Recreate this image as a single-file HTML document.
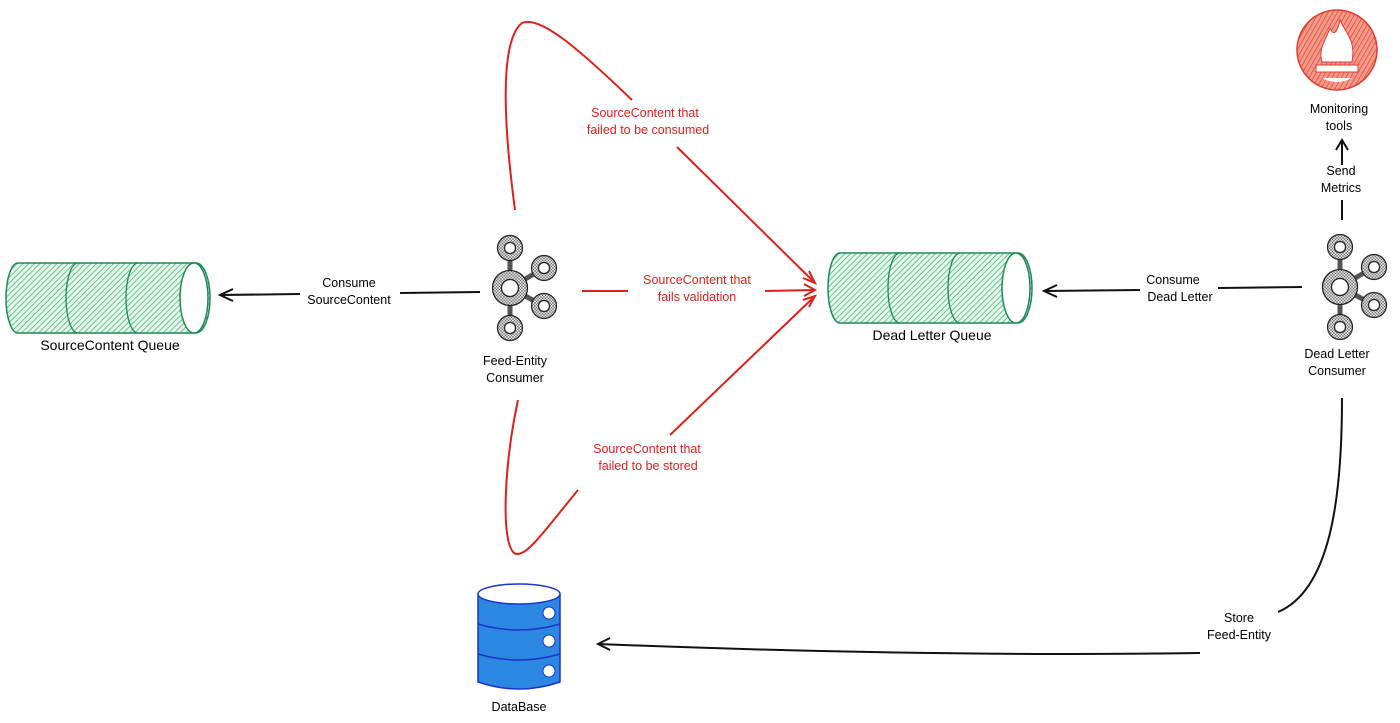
<!DOCTYPE html>
<html><head><meta charset="utf-8"><style>
html,body{margin:0;padding:0;background:#fff;width:1400px;height:723px;overflow:hidden}
svg text{font-family:"Liberation Sans",sans-serif;font-size:12.5px;text-anchor:middle}
</style></head><body>
<svg width="1400" height="723" viewBox="0 0 1400 723" xmlns="http://www.w3.org/2000/svg">
<defs>
<pattern id="hg" width="4" height="4" patternUnits="userSpaceOnUse" patternTransform="rotate(45)"><rect width="4" height="4" fill="#e6f7ec"/><line x1="0" y1="0" x2="0" y2="4" stroke="#3fb46e" stroke-width="1.5"/></pattern>
<pattern id="hk" width="3" height="3" patternUnits="userSpaceOnUse"><rect width="3" height="3" fill="#d8d8d8"/><path d="M0 0L3 3M3 0L0 3" stroke="#666" stroke-width="0.5"/></pattern>
<pattern id="hr" width="4" height="4" patternUnits="userSpaceOnUse" patternTransform="rotate(30)"><rect width="4" height="4" fill="#f59b8c"/><line x1="0" y1="0" x2="0" y2="4" stroke="#e03c2c" stroke-width="1.4"/></pattern>
<g id="kafka">
<line x1="0" y1="-40" x2="0" y2="40" stroke="#555" stroke-width="5"/>
<line x1="0" y1="0" x2="34" y2="-20" stroke="#555" stroke-width="5"/>
<line x1="0" y1="0" x2="34" y2="18" stroke="#555" stroke-width="5"/>
<circle r="13" fill="#fff" stroke="url(#hk)" stroke-width="9"/><circle r="17.5" fill="none" stroke="#222" stroke-width="1.3"/><circle r="8.5" fill="#fff" stroke="#222" stroke-width="1.3"/>
<g transform="translate(0,-40)"><circle r="9" fill="#fff" stroke="url(#hk)" stroke-width="7"/><circle r="12.5" fill="none" stroke="#222" stroke-width="1.2"/><circle r="5.5" fill="#fff" stroke="#222" stroke-width="1.2"/></g>
<g transform="translate(0,40)"><circle r="9" fill="#fff" stroke="url(#hk)" stroke-width="7"/><circle r="12.5" fill="none" stroke="#222" stroke-width="1.2"/><circle r="5.5" fill="#fff" stroke="#222" stroke-width="1.2"/></g>
<g transform="translate(34,-20)"><circle r="9" fill="#fff" stroke="url(#hk)" stroke-width="7"/><circle r="12.5" fill="none" stroke="#222" stroke-width="1.2"/><circle r="5.5" fill="#fff" stroke="#222" stroke-width="1.2"/></g>
<g transform="translate(34,18)"><circle r="9" fill="#fff" stroke="url(#hk)" stroke-width="7"/><circle r="12.5" fill="none" stroke="#222" stroke-width="1.2"/><circle r="5.5" fill="#fff" stroke="#222" stroke-width="1.2"/></g>
</g>
<g id="queue">
<path d="M12,0 H190 A14,35 0 0 1 190,70 H12 A12,35 0 0 1 12,0Z" fill="url(#hg)" stroke="#1e8a55" stroke-width="1.5"/>
<path d="M72,0 A12,35 0 0 0 72,70 M132,0 A12,35 0 0 0 132,70" fill="none" stroke="#1e8a55" stroke-width="1.3"/>
<ellipse cx="188" cy="35" rx="14" ry="35" fill="#fff" stroke="#1e8a55" stroke-width="1.5"/>
</g>
</defs>

<use href="#queue" x="6" y="263"/>
<text x="110" y="350" style="font-size:14px">SourceContent Queue</text>
<use href="#queue" x="828" y="253"/>
<text x="932" y="340" style="font-size:14px">Dead Letter Queue</text>

<use href="#kafka" x="510" y="288"/>
<text x="515" y="365">Feed-Entity</text><text x="515" y="382">Consumer</text>
<use href="#kafka" x="1340" y="287"/>
<text x="1337" y="358">Dead Letter</text><text x="1337" y="375">Consumer</text>

<circle cx="1337" cy="50" r="40" fill="url(#hr)" stroke="#e03c2c" stroke-width="1.5"/>
<path d="M1322,62 C1318,48 1326,40 1330,28 C1334,38 1338,30 1340,20 C1346,34 1356,40 1352,62Z" fill="#fff" stroke="#e03c2c"/>
<rect x="1316" y="65" width="42" height="7" fill="#fff" stroke="#e03c2c"/>
<path d="M1322,78 Q1337,86 1352,78Z" fill="#fff"/>
<text x="1339" y="113">Monitoring</text><text x="1339" y="130">tools</text>

<!-- DB -->
<path d="M478,594 V682 Q519,696 560,682 V594" fill="#2b87e0" stroke="#1a34c8" stroke-width="1.5"/>
<path d="M478,624 Q519,636 560,624 M478,654 Q519,666 560,654" fill="none" stroke="#1a34c8" stroke-width="1.5"/>
<ellipse cx="519" cy="594" rx="41" ry="10" fill="#fff" stroke="#1a34c8" stroke-width="1.5"/>
<circle cx="549" cy="613" r="6" fill="#fff" stroke="#1a34c8"/><circle cx="549" cy="641" r="6" fill="#fff" stroke="#1a34c8"/><circle cx="549" cy="671" r="6" fill="#fff" stroke="#1a34c8"/>
<text x="519" y="711">DataBase</text>

<!-- black arrows -->
<g fill="none" stroke="#111" stroke-width="2">
<path d="M480,292 L400,293 M300,294 L220,295"/><path d="M233,289 L220,295 L233,301"/>
<path d="M1302,287 L1218,288 M1140,290 L1044,291"/><path d="M1057,285 L1044,291 L1057,297"/>
<path d="M1342,220 V200 M1342,165 V140"/><path d="M1336,150 L1342,140 L1348,150"/>
<path d="M1342,398 C1342,500 1330,590 1278,612"/>
<path d="M1200,653 C1000,656 800,652 598,644"/><path d="M610,638 L598,644 L610,650"/>
</g>
<text x="349" y="287">Consume</text><text x="349" y="304">SourceContent</text>
<text x="1173" y="284">Consume</text><text x="1180" y="301">Dead Letter</text>
<text x="1341" y="175">Send</text><text x="1341" y="192">Metrics</text>
<text x="1239" y="622">Store</text><text x="1239" y="639">Feed-Entity</text>

<!-- red arrows -->
<g fill="none" stroke="#e0201c" stroke-width="2">
<path d="M515,210 C503,120 500,40 522,23 C540,15 580,50 632,100"/>
<path d="M677,147 L815,283"/><path d="M803,278 L815,283 L809,271"/>
<path d="M582,291 L628,291 M765,291 L815,290"/><path d="M804,284 L815,290 L804,296"/>
<path d="M518,400 C505,460 500,540 514,553 C525,560 545,530 578,490"/>
<path d="M670,435 L815,296"/><path d="M803,300 L815,296 L809,307"/>
</g>
<g fill="#e0201c">
<text x="645" y="117">SourceContent that</text><text x="648" y="134">failed to be consumed</text>
<text x="697" y="284">SourceContent that</text><text x="697" y="301">fails validation</text>
<text x="647" y="453">SourceContent that</text><text x="648" y="470">failed to be stored</text>
</g>
</svg>
</body></html>
